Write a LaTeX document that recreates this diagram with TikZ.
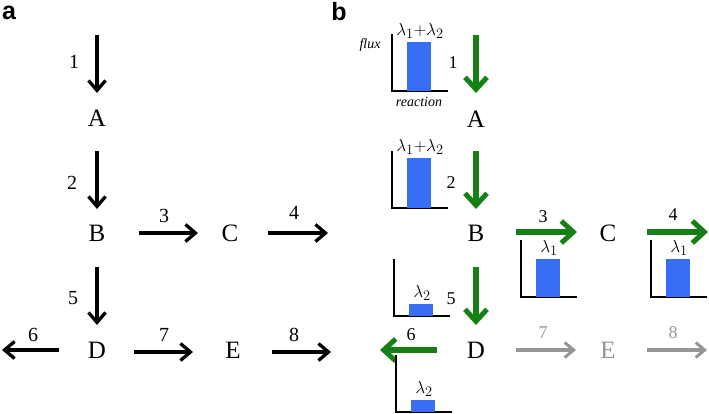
\documentclass[tikz,border=0pt]{standalone}
\usepackage{fontspec}
\setmainfont{Liberation Serif}
\setsansfont{Liberation Sans}
\usetikzlibrary{arrows.meta}
\definecolor{fgreen}{RGB}{22,128,22}
\definecolor{fblue}{RGB}{55,110,245}
\definecolor{fgray}{RGB}{150,150,150}
\tikzset{
  met/.style={font=\fontsize{25}{27}\selectfont, inner sep=0pt},
  num/.style={font=\fontsize{20}{22}\selectfont, inner sep=0pt},
  numb/.style={font=\fontsize{18}{20}\selectfont, inner sep=0pt},
  blk/.style={line width=3.3pt, -{Straight Barb[length=10pt,width=17pt,line width=3.3pt]}},
  grn/.style={draw=fgreen, line width=5.5pt, -{Straight Barb[length=12pt,width=22pt,line width=5pt]}},
  gry/.style={draw=fgray, line width=3.3pt, -{Straight Barb[length=9pt,width=15pt,line width=3pt]}},
  axis/.style={line width=2pt},
  bar/.style={fill=fblue, draw=none},
  lam/.style={font=\fontsize{19}{20}\selectfont, inner sep=0pt},
  panel/.style={font=\sffamily\bfseries\fontsize{25}{26}\selectfont, inner sep=0pt},
  axlab/.style={font=\itshape\fontsize{14}{15}\selectfont, inner sep=0pt}
}
\newcommand\fluxhist[5]{%
  % #1 x of axis, #2 bottom y, #3 bar top y, #4 label, #5 name
  \draw[axis] (#1,#2-57) -- (#1,#2) -- (#1+56,#2);
  \fill[bar] (#1+15,#2) rectangle (#1+39,#3);
  \node[lam] (#5) at (#1+28,#3-11) {#4};
}
\begin{document}
\begin{tikzpicture}[x=1pt,y=-1pt]
\useasboundingbox (0,0) rectangle (709,413);
% ---------- panel a ----------
\node[panel] (pa) at (9,13) {a};
\node[met] (A) at (97,118) {A};
\node[met] (B) at (97,233) {B};
\node[met] (C) at (230,233) {C};
\node[met] (D) at (97,350) {D};
\node[met] (E) at (233,350) {E};
\coordinate (a1s) at (97,35);
\coordinate (a1e) at (97,93);
\coordinate (a2s) at (97,151);
\coordinate (a2e) at (97,209);
\coordinate (a3s) at (139,233);
\coordinate (a3e) at (198,233);
\coordinate (a4s) at (268,233);
\coordinate (a4e) at (328,233);
\coordinate (a5s) at (97,267);
\coordinate (a5e) at (97,325);
\coordinate (a6s) at (59,350);
\coordinate (a6e) at (2,350);
\coordinate (a7s) at (134,352);
\coordinate (a7e) at (193,352);
\coordinate (a8s) at (272,352);
\coordinate (a8e) at (331,352);
\draw[blk] (a1s) -- (a1e);
\draw[blk] (a2s) -- (a2e);
\draw[blk] (a3s) -- (a3e);
\draw[blk] (a4s) -- (a4e);
\draw[blk] (a5s) -- (a5e);
\draw[blk] (a6s) -- (a6e);
\draw[blk] (a7s) -- (a7e);
\draw[blk] (a8s) -- (a8e);
\node[num] (n1) at (74,62) {1};
\node[num] (n2) at (72,183) {2};
\node[num] (n3) at (164,216) {3};
\node[num] (n4) at (294,213) {4};
\node[num] (n5) at (73,298) {5};
\node[num] (n6) at (33,335) {6};
\node[num] (n7) at (164,335) {7};
\node[num] (n8) at (294,335) {8};
% ---------- panel b ----------
\node[panel] (pb) at (339,12) {b};
\node[met] (bA) at (476,119) {A};
\node[met] (bB) at (476,233) {B};
\node[met] (bC) at (608,233) {C};
\node[met] (bD) at (476,350) {D};
\node[met, text=fgray] (bE) at (608,350) {E};
\coordinate (b1s) at (476,35);
\coordinate (b1e) at (476,93);
\coordinate (b2s) at (476,151);
\coordinate (b2e) at (476,209);
\coordinate (b3s) at (516,232);
\coordinate (b3e) at (577,232);
\coordinate (b4s) at (647,232);
\coordinate (b4e) at (708,232);
\coordinate (b5s) at (476,267);
\coordinate (b5e) at (476,325);
\coordinate (b6s) at (437,350);
\coordinate (b6e) at (380,350);
\coordinate (b7s) at (516,350);
\coordinate (b7e) at (576,350);
\coordinate (b8s) at (647,350);
\coordinate (b8e) at (707,350);
\draw[grn] (b1s) -- (b1e);
\draw[grn] (b2s) -- (b2e);
\draw[grn] (b3s) -- (b3e);
\draw[grn] (b4s) -- (b4e);
\draw[grn] (b5s) -- (b5e);
\draw[grn] (b6s) -- (b6e);
\draw[gry] (b7s) -- (b7e);
\draw[gry] (b8s) -- (b8e);
\node[numb] (m1) at (453,63) {1};
\node[numb] (m2) at (451,183) {2};
\node[numb] (m3) at (543,217) {3};
\node[numb] (m4) at (673,215) {4};
\node[numb] (m5) at (451,299) {5};
\node[numb] (m6) at (411,335) {6};
\node[numb, text=fgray] (m7) at (543,333) {7};
\node[numb, text=fgray] (m8) at (673,333) {8};
% histograms
\fluxhist{392}{91}{42}{$\lambda_1{+}\lambda_2$}{h1}
\fluxhist{392}{208}{158}{$\lambda_1{+}\lambda_2$}{h2}
\fluxhist{394}{316}{304}{$\lambda_2$}{h5}
\fluxhist{396}{412}{400}{$\lambda_2$}{h6}
\fluxhist{521}{297}{259}{$\lambda_1$}{h3}
\fluxhist{651}{297}{259}{$\lambda_1$}{h4}
\node[axlab] (flux) at (370,45) {flux};
\node[axlab] (react) at (419,102) {reaction};
\end{tikzpicture}
\end{document}
